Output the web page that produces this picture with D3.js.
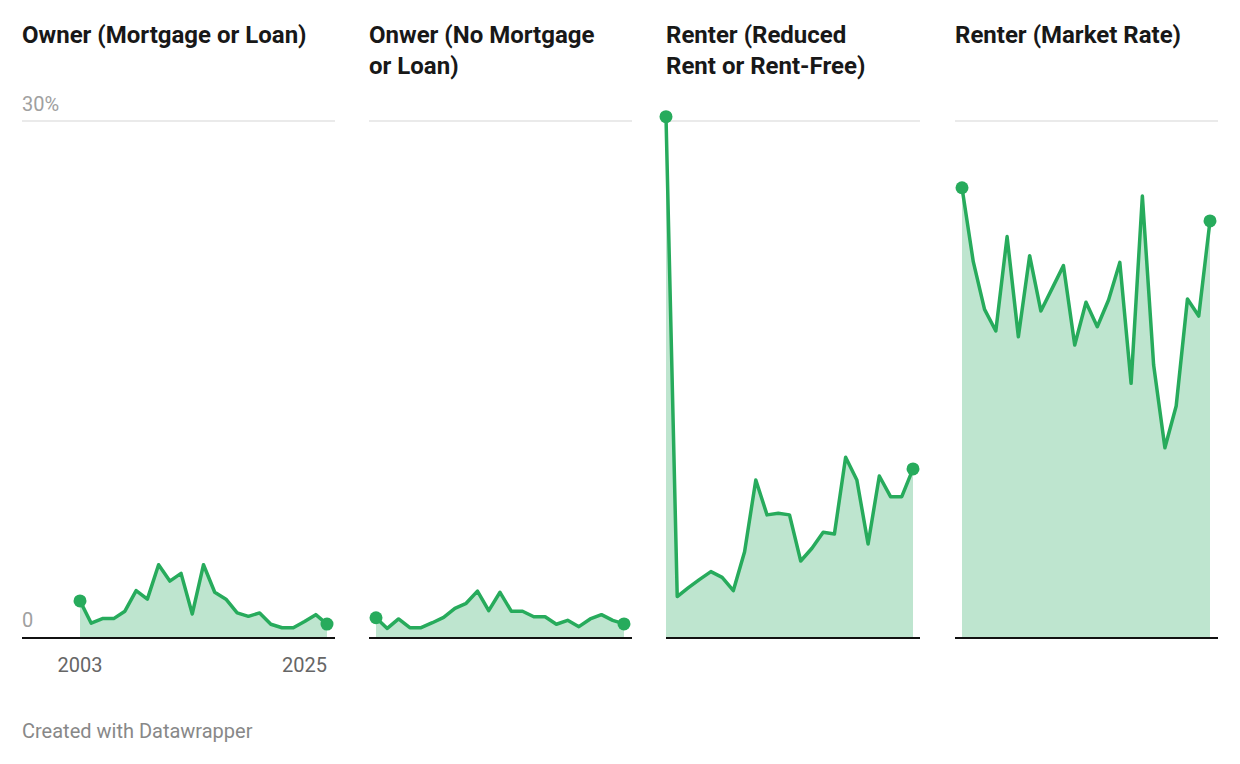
<!DOCTYPE html>
<html><head><meta charset="utf-8">
<script src="https://cdn.jsdelivr.net/npm/d3@7"></script>
<style>body{margin:0;background:#fff;font-family:Roboto,sans-serif}</style>
</head><body><svg id="c" width="1240" height="764"></svg>
<script>
const years = d3.range(2003, 2026);
const titles = [["Owner (Mortgage or Loan)"],["Onwer (No Mortgage","or Loan)"],["Renter (Reduced","Rent or Rent-Free)"],["Renter (Market Rate)"]];
const ownerMortgage = [2.1,0.8,1.07,1.07,1.5,2.7,2.2,4.2,3.25,3.7,1.34,4.2,2.6,2.2,1.4,1.2,1.4,0.74,0.54,0.54,0.9,1.3,0.75];
const ownerNoMortgage = [1.12,0.5,1.05,0.54,0.54,0.83,1.14,1.67,1.96,2.67,1.53,2.6,1.5,1.5,1.18,1.18,0.74,0.97,0.6,1.05,1.3,0.97,0.76];
const renterReduced = [30.25,2.35,2.87,3.35,3.8,3.47,2.7,4.96,9.13,7.1,7.19,7.1,4.42,5.16,6.09,5.99,10.45,9.13,5.41,9.36,8.16,8.16,9.77];
const renterMarket = [26.12,21.82,19.05,17.79,23.28,17.46,22.17,18.95,20.27,21.59,16.98,19.46,18.04,19.59,21.78,14.75,25.64,15.81,11.0,13.43,19.65,18.66,24.19];
const yTicks = [0, 30];
const series = [ownerMortgage, ownerNoMortgage, renterReduced, renterMarket];
// panel geometry: [gridLeft, gridRight, dataLeft, dataRight]
const panels = [[22,335,80,327],[369,632,376,624],[666,920,666,913],[955,1218,962,1210]];
const svg = d3.select("#c");
const y = d3.scaleLinear().domain([0,30]).range([637,121]);
const line="#27ab5c", fill="#bee5cf";
panels.forEach((p,i)=>{
  const g = svg.append("g");
  titles[i].forEach((t,j)=>g.append("text").attr("x",p[0]).attr("y",43+j*31).text(t)
    .attr("font-size",24).attr("font-weight",700).attr("fill","#181818"));
  g.append("line").attr("x1",p[0]).attr("x2",p[1]).attr("y1",y(30)).attr("y2",y(30)).attr("stroke","#e3e3e3").attr("stroke-width",1.5);
  const x = d3.scaleLinear().domain([2003,2025]).range([p[2],p[3]]);
  const d = series[i].map((v,k)=>[years[k],v]);
  g.append("path").attr("d",d3.area().x(e=>x(e[0])).y0(y(0)).y1(e=>y(e[1]))(d)).attr("fill",fill);
  g.append("path").attr("d",d3.line().x(e=>x(e[0])).y(e=>y(e[1]))(d)).attr("fill","none").attr("stroke",line).attr("stroke-width",3.5).attr("stroke-linejoin","round");
  [d[0],d[d.length-1]].forEach(e=>g.append("circle").attr("cx",x(e[0])).attr("cy",y(e[1])).attr("r",6.5).attr("fill",line));
  g.append("line").attr("x1",p[0]).attr("x2",p[1]).attr("y1",y(0)+1).attr("y2",y(0)+1).attr("stroke","#111").attr("stroke-width",2);
  if(i===0){
    yTicks.forEach(t=>g.append("text").attr("x",p[0]).attr("y",y(t)-10).text(t===30?"30%":"0").attr("font-size",20).attr("fill","#a0a0a0"));
    g.append("text").attr("x",x(2003)).attr("y",672).attr("text-anchor","middle").text("2003").attr("font-size",20).attr("fill","#666");
    g.append("text").attr("x",x(2025)).attr("y",672).attr("text-anchor","end").text("2025").attr("font-size",20).attr("fill","#666");
  }
});
svg.append("text").attr("x",22).attr("y",738).text("Created with Datawrapper").attr("font-size",20).attr("fill","#888");
</script></body></html>
